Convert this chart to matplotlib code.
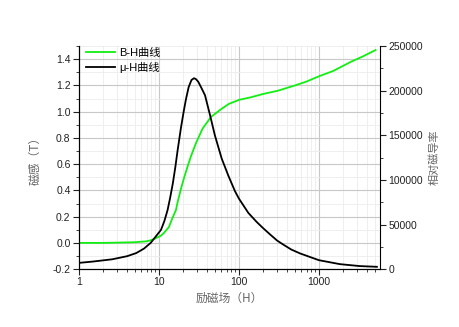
import matplotlib
matplotlib.use("Agg")
import matplotlib.pyplot as plt
from matplotlib.ticker import LogLocator, NullFormatter, MultipleLocator, FixedLocator

plt.rcParams['font.family'] = ['Liberation Sans', 'Noto Sans CJK SC', 'DejaVu Sans']

# B-H curve (H in A/m, B in T)
bh_h = [1, 2, 3, 5, 7, 7.9, 8.7, 10.6, 11.5, 13.3, 14.1, 15, 16.3, 17.1, 18.8, 20.7,
        23, 25.1, 29, 35, 44.7, 60, 75, 100, 141, 200, 307, 500, 700, 1000, 1500,
        2500, 3500, 5100]
bh_b = [0.0, 0.0, 0.002, 0.005, 0.012, 0.02, 0.03, 0.055, 0.075, 0.12, 0.16, 0.2, 0.25,
        0.31, 0.41, 0.5, 0.59, 0.66, 0.76, 0.87, 0.96, 1.02, 1.06, 1.09, 1.11, 1.135,
        1.16, 1.2, 1.23, 1.27, 1.31, 1.38, 1.42, 1.47]

# relative permeability vs H
mu_h = [1, 1.5, 2.6, 4, 5.2, 6.5, 7.9, 9.2, 10.6, 11.7, 12.8, 13.8, 14.9, 16, 17.1,
        18.8, 20.5, 21.7, 23.5, 25.5, 27.4, 29, 31, 34, 37.6, 43.5, 50, 60.8, 73.5,
        89, 100, 131, 166, 200, 244, 300, 358, 450, 580, 1000, 1820, 3240, 5300]
mu_r = [7000, 8500, 11000, 14500, 18000, 23000, 29500, 37000, 44000, 54000, 66000,
        80000, 96000, 114000, 133000, 158000, 178000, 190000, 204000, 212000, 214000,
        213000, 210000, 203000, 195000, 172600, 150000, 124000, 105000, 87500, 79000,
        63000, 53000, 46000, 39000, 32000, 27500, 22000, 17600, 10000, 5600, 3400, 2600]

fig = plt.figure(figsize=(4.59, 3.27), dpi=100)
ax = fig.add_axes([0.172, 0.177, 0.656, 0.682])
ax2 = ax.twinx()

ax.plot(bh_h, bh_b, color='#11ee11', lw=1.3, label='B-H曲线')
ax2.plot(mu_h, mu_r, color='black', lw=1.3, label='μ-H曲线')

ax.set_xscale('log')
ax.set_xlim(1, 5800)
ax.set_ylim(-0.2, 1.5)
ax2.set_ylim(0, 250000)

ax.xaxis.set_major_locator(FixedLocator([1, 10, 100, 1000]))
ax.set_xticklabels(['1', '10', '100', '1000'])
ax.xaxis.set_minor_locator(LogLocator(base=10, subs=range(2, 10), numticks=20))
ax.xaxis.set_minor_formatter(NullFormatter())
ax.yaxis.set_major_locator(FixedLocator([-0.2, 0.0, 0.2, 0.4, 0.6, 0.8, 1.0, 1.2, 1.4]))
ax.set_yticklabels(['-0.2', '0.0', '0.2', '0.4', '0.6', '0.8', '1.0', '1.2', '1.4'])
ax.yaxis.set_minor_locator(MultipleLocator(0.1))
ax2.yaxis.set_major_locator(MultipleLocator(50000))
ax2.yaxis.set_minor_locator(MultipleLocator(25000))

ax.grid(which='major', color='#c8c8c8', lw=0.8)
ax.grid(which='minor', color='#ececec', lw=0.6)
ax.set_axisbelow(True)

for a in (ax, ax2):
    a.spines['top'].set_visible(False)
    a.tick_params(which='major', direction='out', length=4.5, width=0.8, pad=1.5,
                  labelsize=7.5, colors='#222222')
    a.tick_params(which='minor', direction='out', length=2.5, width=0.6, colors='#222222')
ax.spines['right'].set_visible(False)

cjk = ['Noto Sans CJK SC', 'DejaVu Sans']
ax.set_xlabel('励磁场（H）', family=cjk, fontsize=8.5, color='#666666', labelpad=3)
ax.set_ylabel('磁感（T）', family=cjk, fontsize=8.5, color='#666666', labelpad=8)
ax2.set_ylabel('相对磁导率', family=cjk, fontsize=8, color='#666666', labelpad=4)

h1, l1 = ax.get_legend_handles_labels()
h2, l2 = ax2.get_legend_handles_labels()
ax2.legend(h1 + h2, l1 + l2, loc='upper left', frameon=False, fontsize=8,
           handlelength=2.6, handletextpad=0.4, borderaxespad=0.2, labelspacing=0.3,
           bbox_to_anchor=(0.0, 1.02))

fig.savefig('out.png', dpi=100)
